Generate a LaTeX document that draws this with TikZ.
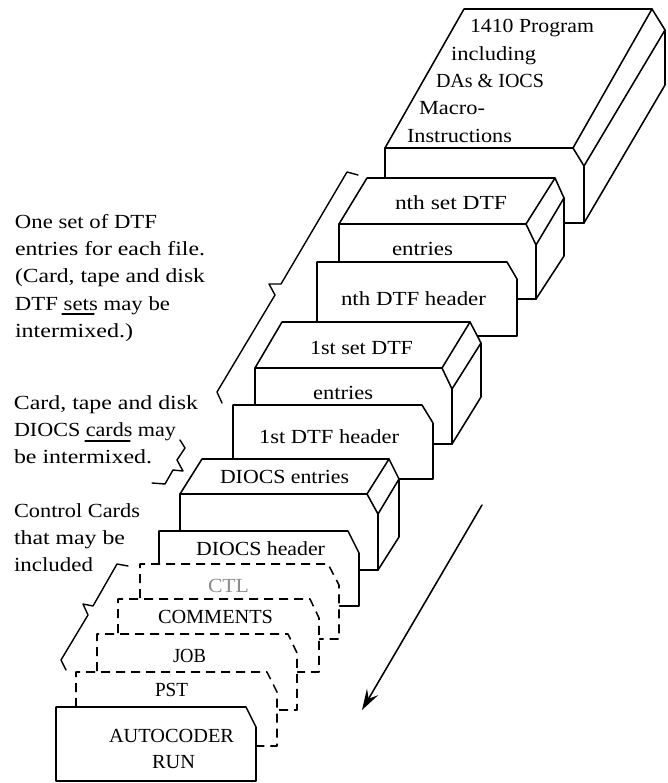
\documentclass[tikz,border=0pt]{standalone}
\usepackage{fontspec}
\usepackage{graphicx}
\setmainfont{Liberation Serif}
\usetikzlibrary{arrows.meta}
\tikzset{
  ink/.style={draw=black,line width=1.55pt,line join=round,line cap=round},
  solidcard/.style={ink,fill=white},
  dashcard/.style={ink,fill=white,line cap=butt,dash pattern=on 9pt off 6pt},
  lbl/.style={inner sep=0pt,outer sep=0pt,anchor=base west,text=black},
  leadline/.style={ink,line width=1.4pt},
  flow/.style={ink,-{Stealth[length=21pt,width=13pt,inset=8pt]}}
}
\newcommand{\lab}[6][black]{\node[lbl,text=#1] (#2) at (#3,#5) {\fontsize{20}{20}\selectfont\resizebox{\dimexpr#4pt-#3pt\relax}{\height}{#6}};}
% 3D deck: left x, front y, back-left x, top y, back-right x, chamfer x, chamfer y, back-bottom y, front-right x, chamfer-front y, chamfer-front x, bottom y
\newcommand{\deck}[9]{\def\dka{#1}\def\dkb{#2}\def\dkc{#3}\def\dkd{#4}\def\dke{#5}\def\dkf{#6}\def\dkg{#7}\def\dkh{#8}\def\dki{#9}\deckrest}
\newcommand{\deckrest}[3]{%
  \draw[solidcard] (\dka,\dkb) -- (\dkc,\dkd) -- (\dke,\dkd) -- (\dkf,\dkg) -- (\dkf,\dkh) -- (#2,#3) -- (\dka,#3) -- cycle;
  \draw[ink] (\dka,\dkb) -- (\dki,\dkb) -- (\dke,\dkd);
  \draw[ink] (\dki,\dkb) -- (#2,#1) -- (\dkf,\dkg);
  \draw[ink] (#2,#1) -- (#2,#3);
}
\begin{document}
\begin{tikzpicture}[x=1pt,y=-1pt]
\useasboundingbox (0,0) rectangle (668,783);
% program deck
\deck{385}{148}{464}{9}{652}{665}{30}{85}{573}{166}{584}{223}
% nth set
\deck{339}{224}{367}{178}{555}{564}{198}{256}{526}{245}{536}{299}
\draw[solidcard] (317,330) -- (317,262) -- (507,262) -- (517,279) -- (517,336) -- (430,336) -- (317,336);
% 1st set
\deck{255}{368}{282}{322}{470}{481}{343}{397}{442}{389}{452}{444}
\draw[solidcard] (233,470) -- (233,405) -- (422,405) -- (433,423) -- (433,479) -- (233,479) -- cycle;
% DIOCS entries
\deck{180}{494}{202}{459}{389}{399}{479}{537}{367}{514}{378}{570}
\draw[solidcard] (159,600) -- (159,531) -- (348,531) -- (359,553) -- (359,606) -- (159,606) -- cycle;
% dashed cards
\draw[dashcard] (140,598) -- (140,564) -- (328,564) -- (339,585) -- (339,639) -- (319,639) -- (140,639);
\draw[dashcard] (118,633) -- (118,599) -- (310,599) -- (319,618) -- (319,672) -- (297,672) -- (118,672);
\draw[dashcard] (97,671) -- (97,634) -- (288,634) -- (297,653) -- (297,710) -- (277,710) -- (97,710);
\draw[dashcard] (76,707) -- (76,672) -- (267,672) -- (277,692) -- (277,746) -- (256,746) -- (76,746);
\draw[solidcard] (56,781) -- (56,707) -- (246,707) -- (256,727) -- (256,781) -- cycle;
% flow arrow
\coordinate (flowstart) at (482,505);
\coordinate (flowend) at (362,710);
\draw[flow] (flowstart) -- (flowend);
% brackets
\draw[leadline] (358,175) -- (347,172) -- (281,284) -- (269,284) -- (275,295) -- (217,392) -- (222,403);
\draw[leadline] (180,440) -- (185,448) -- (177,460) -- (183,471) -- (173,470) -- (165,484) -- (152,483);
\draw[leadline] (128,566) -- (117,564) -- (93,606) -- (83,604) -- (88,615) -- (61,660) -- (66,670);
% deck labels
\lab{p1}{470}{594}{33}{1410 Program}
\lab{p2}{451}{536}{61}{including}
\lab{p3}{436}{544}{88}{DAs \& IOCS}
\lab{p4}{419}{485}{115}{Macro-}
\lab{p5}{407}{512}{143}{Instructions}
\lab{n1}{395}{507}{210}{nth set DTF}
\lab{n2}{392}{453}{255}{entries}
\lab{n3}{341}{486}{305}{nth DTF header}
\lab{f1}{310}{413}{354}{1st set DTF}
\lab{f2}{313}{373}{399}{entries}
\lab{f3}{259}{399}{443}{1st DTF header}
\lab{d1}{220}{349}{483}{DIOCS entries}
\lab{d2}{196}{325}{555}{DIOCS header}
\lab[black!45]{c1}{208}{249}{592}{CTL}
\lab{c2}{158}{273}{623}{COMMENTS}
\lab{c3}{173}{206}{662}{JOB}
\lab{c4}{155}{188}{696}{PST}
\lab{r1}{109}{234}{742}{AUTOCODER}
\lab{r2}{152}{195}{768}{RUN}
% side notes
\lab{s1}{15}{157}{229}{One set of DTF}
\lab{s2}{15}{205}{256}{entries for each file.}
\lab{s3}{15}{205}{283}{(Card, tape and disk}
\lab{s4}{15}{170}{310}{DTF sets may be}
\lab{s5}{15}{133}{337}{intermixed.)}
\lab{t1}{14}{198}{409}{Card, tape and disk}
\lab{t2}{14}{176}{436}{DIOCS cards may}
\lab{t3}{14}{152}{463}{be intermixed.}
\lab{u1}{14}{140}{517}{Control Cards}
\lab{u2}{14}{125}{544}{that may be}
\lab{u3}{14}{93}{571}{included}
\draw[ink,line width=1.1pt] (62,314) -- (94,314);
\draw[ink,line width=1.1pt] (85,441) -- (130,441);
\end{tikzpicture}
\end{document}
